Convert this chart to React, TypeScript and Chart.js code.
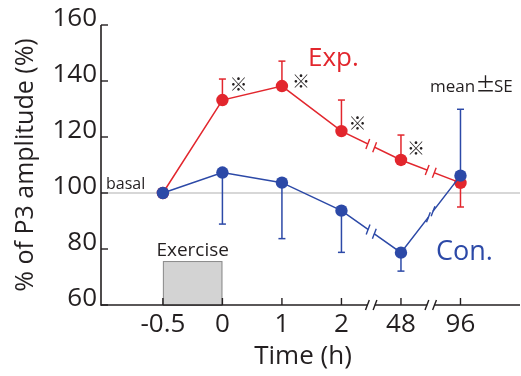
import React, { useEffect, useRef } from 'react';
import { Chart, registerables } from 'chart.js';

Chart.register(...registerables);

// ---- data ----
const timeLabels = ['-0.5', '0', '1', '2', '48', '96'];
const expMean = [100, 133.2, 138.2, 122.1, 111.8, 103.6];
const expErrEnd: (number | null)[] = [null, 140.7, 147.1, 133.2, 120.7, 95.0];
const conMean = [100, 107.3, 103.7, 93.7, 78.7, 106.2];
const conErrEnd: (number | null)[] = [null, 88.9, 83.7, 78.8, 72.1, 129.9];
const yTickValues = [60, 80, 100, 120, 140, 160];
const sigIndices = [1, 2, 3, 4];
const breakAfterIndices = [3, 4];
const basalValue = 100;
const exerciseStart = 0; // index of -0.5
const exerciseEnd = 1; // index of 0
const exerciseTop = 75.7;

// ---- styles ----
const RED = '#e2262d';
const BLUE = '#2c49a7';
const INK = '#231f20';
const FONT = "'Open Sans', 'Noto Sans', sans-serif";
const CJK = "'Noto Sans CJK JP', 'Open Sans', sans-serif";
const sigOffsets = [
  [16, -16],
  [19, -5],
  [16, -8],
  [15, -12],
];

function seg(ctx: CanvasRenderingContext2D, x1: number, y1: number, x2: number, y2: number) {
  ctx.beginPath();
  ctx.moveTo(x1, y1);
  ctx.lineTo(x2, y2);
  ctx.stroke();
}

function slashPair(ctx: CanvasRenderingContext2D, cx: number, cy: number, ux: number, uy: number, color: string) {
  ctx.strokeStyle = '#ffffff';
  ctx.lineWidth = 4;
  seg(ctx, cx - ux * 3.6, cy - uy * 3.6, cx + ux * 3.6, cy + uy * 3.6);
  ctx.strokeStyle = color;
  ctx.lineWidth = 1.4;
  for (const s of [-3.8, 3.8]) {
    const px = cx + ux * s;
    const py = cy + uy * s;
    seg(ctx, px - 1.9, py + 5, px + 1.9, py - 5);
  }
}

const deco = {
  id: 'deco',
  beforeDatasetsDraw(chart: any) {
    const { ctx, chartArea: a, scales } = chart;
    const x = scales.x;
    const y = scales.y;
    ctx.save();
    // basal line
    const yb = y.getPixelForValue(basalValue);
    ctx.strokeStyle = '#cacaca';
    ctx.lineWidth = 1.5;
    seg(ctx, a.left, yb, a.right, yb);
    // exercise box
    const x0 = x.getPixelForValue(exerciseStart);
    const x1 = x.getPixelForValue(exerciseEnd);
    const yt = y.getPixelForValue(exerciseTop);
    const ybot = y.getPixelForValue(60);
    ctx.fillStyle = '#d3d3d3';
    ctx.fillRect(x0, yt, x1 - x0, ybot - yt);
    ctx.strokeStyle = '#8c8c8c';
    ctx.lineWidth = 1;
    ctx.strokeRect(x0 + 0.5, yt + 0.5, x1 - x0 - 1, ybot - yt);
    ctx.fillStyle = INK;
    ctx.font = `19px ${FONT}`;
    ctx.textAlign = 'center';
    ctx.textBaseline = 'alphabetic';
    ctx.fillText('Exercise', (x0 + x1) / 2, yt - 5);
    // error bars
    const series: [number[], (number | null)[], string][] = [
      [expMean, expErrEnd, RED],
      [conMean, conErrEnd, BLUE],
    ];
    for (const [means, ends, color] of series) {
      ctx.strokeStyle = color;
      ctx.lineWidth = 1.5;
      means.forEach((m, i) => {
        const e = ends[i];
        if (e == null) return;
        const px = x.getPixelForValue(i);
        const py = y.getPixelForValue(m);
        const pe = y.getPixelForValue(e);
        seg(ctx, px, py, px, pe);
        seg(ctx, px - 3.5, pe, px + 3.5, pe);
      });
    }
    ctx.restore();
  },
  afterDatasetsDraw(chart: any) {
    const { ctx, chartArea: a, scales } = chart;
    const x = scales.x;
    const y = scales.y;
    ctx.save();
    // axes
    ctx.strokeStyle = INK;
    ctx.lineWidth = 1.6;
    seg(ctx, a.left, a.top, a.left, a.bottom + 0.8);
    seg(ctx, a.left, a.bottom, a.right, a.bottom);
    ctx.lineWidth = 1.4;
    yTickValues.forEach((v) => {
      const py = y.getPixelForValue(v);
      seg(ctx, a.left, py, a.left + 7, py);
    });
    timeLabels.forEach((_, i) => {
      const px = x.getPixelForValue(i);
      seg(ctx, px, a.bottom, px, a.bottom - 7);
    });
    // axis breaks
    breakAfterIndices.forEach((i) => {
      const px = x.getPixelForValue(i + 0.5);
      slashPair(ctx, px, a.bottom, 1, 0, INK);
    });
    // data line breaks
    chart.data.datasets.forEach((ds: any, di: number) => {
      const meta = chart.getDatasetMeta(di);
      breakAfterIndices.forEach((i) => {
        const p = meta.data[i];
        const q = meta.data[i + 1];
        const dx = q.x - p.x;
        const dy = q.y - p.y;
        const len = Math.hypot(dx, dy);
        slashPair(ctx, (p.x + q.x) / 2, (p.y + q.y) / 2, dx / len, dy / len, ds.borderColor);
      });
    });
    // significance marks
    ctx.fillStyle = INK;
    ctx.font = `18px ${CJK}`;
    ctx.textAlign = 'center';
    ctx.textBaseline = 'middle';
    const expMeta = chart.getDatasetMeta(1);
    sigIndices.forEach((i, k) => {
      const p = expMeta.data[i];
      ctx.fillText('※', p.x + sigOffsets[k][0], p.y + sigOffsets[k][1]);
    });
    // series labels
    ctx.textAlign = 'left';
    ctx.textBaseline = 'alphabetic';
    ctx.font = `26px ${FONT}`;
    ctx.fillStyle = RED;
    ctx.fillText('Exp.', 308, 66);
    ctx.fillStyle = BLUE;
    ctx.font = `27px ${FONT}`;
    ctx.fillText('Con.', 436, 260);
    ctx.fillStyle = INK;
    ctx.font = `17px ${FONT}`;
    ctx.fillText('mean', 430, 92);
    ctx.fillText('SE', 494, 92);
    ctx.font = `20px ${CJK}`;
    ctx.textAlign = 'center';
    ctx.fillText('±', 485.5, 92);
    ctx.textAlign = 'left';
    ctx.font = `16px ${FONT}`;
    ctx.fillText('basal', 106, 189);
    // axis titles
    ctx.font = `26px ${FONT}`;
    ctx.textAlign = 'center';
    ctx.textBaseline = 'middle';
    ctx.fillText('Time (h)', 303, 357);
    ctx.font = `25px ${FONT}`;
    ctx.translate(26, 165);
    ctx.rotate(-Math.PI / 2);
    ctx.fillText('% of P3 amplitude (%)', 0, 0);
    ctx.restore();
  },
};

export default function App() {
  const ref = useRef<HTMLCanvasElement | null>(null);
  useEffect(() => {
    if (!ref.current) return;
    Chart.defaults.font.family = FONT;
    const chart = new Chart(ref.current, {
      type: 'line',
      data: {
        datasets: [
          {
            label: 'Con.',
            data: conMean.map((v, i) => ({ x: i, y: v })),
            borderColor: BLUE,
            backgroundColor: BLUE,
            pointBackgroundColor: BLUE,
            pointBorderWidth: 0,
            pointRadius: 6.2,
            pointHoverRadius: 6.2,
            borderWidth: 1.5,
            tension: 0,
            clip: false,
          },
          {
            label: 'Exp.',
            data: expMean.map((v, i) => ({ x: i, y: v })),
            borderColor: RED,
            backgroundColor: RED,
            pointBackgroundColor: RED,
            pointBorderWidth: 0,
            pointRadius: 6.2,
            pointHoverRadius: 6.2,
            borderWidth: 1.5,
            tension: 0,
            clip: false,
          },
        ],
      },
      options: {
        animation: false,
        responsive: false,
        devicePixelRatio: 1,
        layout: { autoPadding: false, padding: { top: 25, right: 1, left: 0, bottom: 0 } },
        plugins: { legend: { display: false }, tooltip: { enabled: false } },
        events: [],
        scales: {
          x: {
            type: 'linear',
            min: -1.04,
            max: 6,
            afterBuildTicks: (s: any) => {
              s.ticks = timeLabels.map((_, i) => ({ value: i }));
            },
            afterFit: (s: any) => {
              s.height = 71;
              s.paddingLeft = 0;
              s.paddingRight = 0;
            },
            ticks: {
              callback: (v: any) => timeLabels[v] ?? '',
              autoSkip: false,
              maxRotation: 0,
              padding: 4,
              color: INK,
              font: { size: 26, family: FONT },
            },
            grid: { display: false, drawTicks: false },
            border: { display: false },
          },
          y: {
            type: 'linear',
            min: 60,
            max: 160,
            afterBuildTicks: (s: any) => {
              s.ticks = yTickValues.map((v) => ({ value: v }));
            },
            afterFit: (s: any) => {
              s.width = 101;
              s.paddingTop = 0;
              s.paddingBottom = 0;
            },
            ticks: {
              callback: (v: any) => [String(v), ''],
              padding: 4,
              color: INK,
              font: { size: 26, family: FONT, lineHeight: 0.5 },
            },
            grid: { display: false, drawTicks: false },
            border: { display: false },
          },
        },
      },
      plugins: [deco],
    } as any);
    return () => chart.destroy();
  }, []);
  return (
    <div style={{ position: 'absolute', left: 0, top: 0, width: 521, height: 376, background: '#fff' }}>
      <canvas ref={ref} width={521} height={376} />
    </div>
  );
}
